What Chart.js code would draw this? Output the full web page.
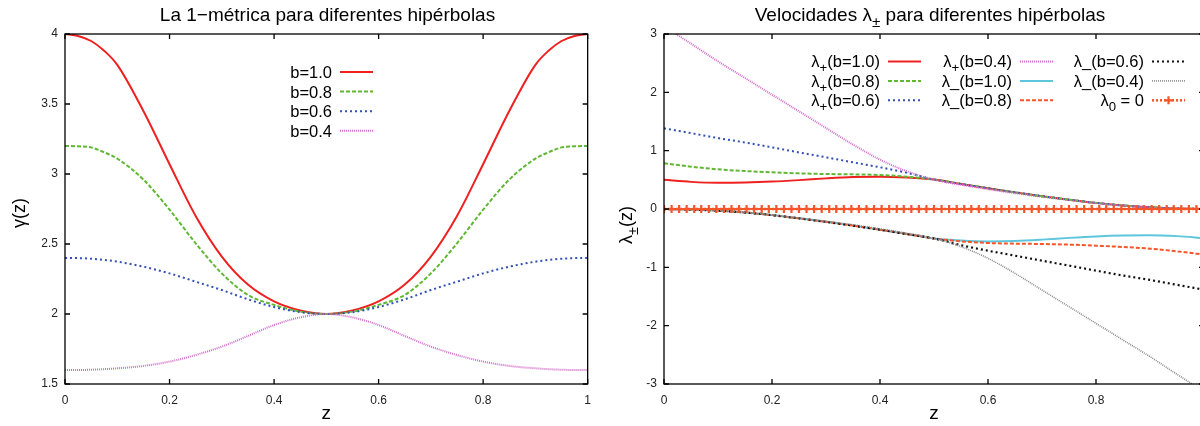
<!DOCTYPE html>
<html>
<head>
<meta charset="utf-8">
<script src="https://cdn.jsdelivr.net/npm/chart.js@4.4.1/dist/chart.umd.min.js"></script>
<style>
  html, body { margin:0; padding:0; background:#fff; overflow:hidden; width:1200px; height:426px; }
  #wrapGamma { position:absolute; left:0; top:0; width:600px; height:426px; }
  #wrapLambda { position:absolute; left:600px; top:0; width:620px; height:426px; }
</style>
</head>
<body>
<div id="wrapGamma"><canvas id="gammaChart" width="600" height="426"></canvas></div>
<div id="wrapLambda"><canvas id="lambdaChart" width="620" height="426"></canvas></div>
<script>
/* ---------------------------
   Data
   --------------------------- */
// left panel: gamma(z), a little denser at both ends where the curves are flat
const gammaZ = [0,0.025,0.05,0.075,0.1,0.15,0.2,0.25,0.3,0.35,0.4,0.45,0.5,0.55,0.6,0.65,0.7,0.75,0.8,0.85,0.9,0.925,0.95,0.975,1];
const gammaB10 = [4.0,3.986,3.95,3.88,3.78,3.45,3.07,2.70,2.41,2.21,2.09,2.025,2.0,2.025,2.09,2.21,2.41,2.70,3.07,3.45,3.78,3.88,3.95,3.986,4.0];
const gammaB08 = [3.2,3.198,3.19,3.155,3.11,2.96,2.745,2.505,2.29,2.136,2.065,2.017,2.0,2.017,2.065,2.136,2.29,2.505,2.745,2.96,3.11,3.155,3.19,3.198,3.2];
const gammaB06 = [2.4,2.399,2.395,2.386,2.374,2.338,2.29,2.231,2.171,2.105,2.05,2.013,2.0,2.013,2.05,2.105,2.171,2.231,2.29,2.338,2.374,2.386,2.395,2.399,2.4];
const gammaB04 = [1.6,1.6,1.602,1.606,1.612,1.629,1.66,1.707,1.767,1.843,1.921,1.976,2.0,1.976,1.921,1.843,1.767,1.707,1.66,1.629,1.612,1.606,1.602,1.6,1.6];

// right panel: lambda_+ and lambda_-
const zGrid = [0,0.05,0.1,0.15,0.2,0.25,0.3,0.35,0.4,0.45,0.5,0.55,0.6,0.65,0.7,0.75,0.8,0.85,0.9,0.95,1];
const lamPlusB10  = [0.50,0.465,0.45,0.455,0.47,0.495,0.525,0.548,0.555,0.54,0.505,0.43,0.355,0.285,0.22,0.16,0.105,0.06,0.028,0.008,0];
const lamPlusB08  = [0.783,0.726,0.68,0.651,0.629,0.611,0.6,0.594,0.583,0.554,0.505,0.43,0.355,0.285,0.22,0.16,0.105,0.06,0.028,0.008,0];
const lamPlusB06  = [1.383,1.30,1.216,1.14,1.057,0.97,0.886,0.80,0.715,0.62,0.505,0.43,0.355,0.285,0.22,0.16,0.105,0.06,0.028,0.008,0];
const lamPlusB04  = [3.13,2.834,2.531,2.246,1.96,1.674,1.389,1.103,0.846,0.646,0.503,0.415,0.34,0.27,0.21,0.155,0.10,0.058,0.026,0.007,0];
const lamMinusB10 = [0,-0.008,-0.028,-0.06,-0.105,-0.16,-0.22,-0.285,-0.355,-0.43,-0.505,-0.54,-0.555,-0.548,-0.525,-0.495,-0.47,-0.455,-0.45,-0.465,-0.50];
const lamMinusB08 = [0,-0.008,-0.028,-0.06,-0.105,-0.16,-0.22,-0.285,-0.355,-0.43,-0.505,-0.554,-0.583,-0.594,-0.6,-0.611,-0.629,-0.651,-0.68,-0.726,-0.783];
const lamMinusB06 = [0,-0.008,-0.028,-0.06,-0.105,-0.16,-0.22,-0.285,-0.355,-0.43,-0.505,-0.62,-0.715,-0.80,-0.886,-0.97,-1.057,-1.14,-1.216,-1.30,-1.383];
const lamMinusB04 = [0,-0.007,-0.026,-0.058,-0.10,-0.155,-0.21,-0.27,-0.34,-0.415,-0.503,-0.646,-0.846,-1.103,-1.389,-1.674,-1.96,-2.246,-2.531,-2.834,-3.13];

// lambda_0 = 0, sampled densely (one cross per sample)
const lambda0Z = [0,0.014,0.028,0.042,0.056,0.069,0.083,0.097,0.111,0.125,0.139,0.153,0.167,0.181,0.194,0.208,0.222,0.236,0.25,0.264,
  0.278,0.292,0.306,0.319,0.333,0.347,0.361,0.375,0.389,0.403,0.417,0.431,0.444,0.458,0.472,0.486,0.5,0.514,0.528,0.542,
  0.556,0.569,0.583,0.597,0.611,0.625,0.639,0.653,0.667,0.681,0.694,0.708,0.722,0.736,0.75,0.764,0.778,0.792,0.806,0.819,
  0.833,0.847,0.861,0.875,0.889,0.903,0.917,0.931,0.944,0.958,0.972,0.986,1];
const lambda0 = [0,0,0,0,0,0,0,0,0,0,0,0,0,0,0,0,0,0,0,0,
  0,0,0,0,0,0,0,0,0,0,0,0,0,0,0,0,0,0,0,0,
  0,0,0,0,0,0,0,0,0,0,0,0,0,0,0,0,0,0,0,0,
  0,0,0,0,0,0,0,0,0,0,0,0,0];

const xTicksZ = [0,0.2,0.4,0.6,0.8,1];

/* ---------------------------
   Helpers
   --------------------------- */
const FONT = "'Liberation Sans', Arial, Helvetica, sans-serif";

function pairs(xs, ys){ return xs.map((x,i)=>({x, y:ys[i]})); }

// 'λ_{+}(b=1.0)' -> [{t:'λ'},{t:'+',sub:true},{t:'(b=1.0)'}]
function parseRich(s){
  const parts = []; const re = /_\{([^}]*)\}/g; let last = 0, m;
  while ((m = re.exec(s))){
    if (m.index > last) parts.push({t:s.slice(last, m.index)});
    parts.push({t:m[1], sub:true});
    last = re.lastIndex;
  }
  if (last < s.length) parts.push({t:s.slice(last)});
  return parts;
}

function drawRich(ctx, s, x, y, size, align){
  const parts = parseRich(s);
  const subSize = size*0.8;
  let w = 0;
  parts.forEach(p=>{ ctx.font = (p.sub?subSize:size)+'px '+FONT; p.w = ctx.measureText(p.t).width; w += p.w; });
  let cx = align==='right' ? x-w : align==='center' ? x-w/2 : x;
  const base = y + size*0.36;
  ctx.textAlign = 'left'; ctx.textBaseline = 'alphabetic';
  parts.forEach(p=>{
    ctx.font = (p.sub?subSize:size)+'px '+FONT;
    ctx.fillText(p.t, cx, p.sub ? base + size*0.3 : base);
    cx += p.w;
  });
}

const fmt = v => String(Math.round(v*100)/100);

/* gnuplot-like frame, inward ticks, titles and key */
const gnuFrame = {
  id:'gnuFrame',
  afterDatasetsDraw(chart, args, o){
    const {ctx, chartArea:a, scales} = chart;
    ctx.save();
    // border
    ctx.strokeStyle = '#000'; ctx.lineWidth = 1.3; ctx.setLineDash([]);
    ctx.strokeRect(a.left, a.top, a.right-a.left, a.bottom-a.top);
    // mirrored inward ticks
    ctx.beginPath();
    scales.x.ticks.forEach(t=>{
      const px = scales.x.getPixelForValue(t.value);
      ctx.moveTo(px, a.bottom); ctx.lineTo(px, a.bottom-5);
      ctx.moveTo(px, a.top); ctx.lineTo(px, a.top+5);
    });
    scales.y.ticks.forEach(t=>{
      const py = scales.y.getPixelForValue(t.value);
      ctx.moveTo(a.left, py); ctx.lineTo(a.left+5, py);
      ctx.moveTo(a.right, py); ctx.lineTo(a.right-5, py);
    });
    ctx.stroke();

    ctx.fillStyle = '#000';
    // title
    drawRich(ctx, o.title, o.titleX, 14, 19, 'center');
    // x title
    drawRich(ctx, 'z', (a.left+a.right)/2, 412, 19, 'center');
    // y title (rotated)
    ctx.save();
    ctx.translate(o.yTitleX, (a.top+a.bottom)/2 + o.yTitleDy);
    ctx.rotate(-Math.PI/2);
    drawRich(ctx, o.yTitle, 0, 0, 18, 'center');
    ctx.restore();

    // key
    const k = o.key;
    k.cols.forEach(col=>{
      col.ids.forEach((id, r)=>{
        const ds = chart.data.datasets[id];
        const y = k.y0 + r*k.dy;
        ctx.fillStyle = '#000';
        drawRich(ctx, ds.label, col.right, y, k.size, 'right');
        const x0 = col.right + k.gap, x1 = x0 + k.len;
        ctx.strokeStyle = ds.borderColor; ctx.lineWidth = ds.borderWidth;
        ctx.setLineDash(ds.borderDash || []);
        ctx.beginPath(); ctx.moveTo(x0, y); ctx.lineTo(x1, y); ctx.stroke();
        if (ds.pointStyle === 'cross'){
          const xm = (x0+x1)/2, r2 = ds.pointRadius;
          ctx.setLineDash([]); ctx.lineWidth = ds.pointBorderWidth;
          ctx.beginPath();
          ctx.moveTo(xm-r2, y); ctx.lineTo(xm+r2, y);
          ctx.moveTo(xm, y-r2); ctx.lineTo(xm, y+r2);
          ctx.stroke();
        }
      });
    });
    ctx.restore();
  }
};

function line(label, xs, ys, color, width, dash, order){
  return { label, data:pairs(xs, ys), borderColor:color, backgroundColor:color,
           borderWidth:width, borderDash:dash, pointRadius:0, fill:false,
           cubicInterpolationMode:'monotone', borderCapStyle:'butt', order };
}

function axes(yMin, yMax, yStep, yWidth, hideLastX){
  const tickFont = {family:FONT, size:12};
  return {
    x:{ type:'linear', min:0, max:1,
        grid:{display:false, drawTicks:false}, border:{display:false},
        afterBuildTicks: s=>{ s.ticks = xTicksZ.map(v=>({value:v})); },
        ticks:{ font:tickFont, color:'#222', padding:9, autoSkip:false, maxRotation:0,
                callback: v => (hideLastX && v === 1) ? '' : fmt(v) },
        afterFit: s=>{ s.height = 42; } },
    y:{ type:'linear', min:yMin, max:yMax,
        grid:{display:false, drawTicks:false}, border:{display:false},
        ticks:{ stepSize:yStep, font:tickFont, color:'#222', padding:7, autoSkip:false, callback: fmt },
        afterFit: s=>{ s.width = yWidth; } }
  };
}

const baseOpts = { responsive:false, animation:false, events:[],
                   plugins:{ legend:{display:false}, tooltip:{enabled:false} } };

const RED='#ee2020', GREEN='#5fb832', BLUE='#3350b4', PINK='#d46ccb',
      CYAN='#5ec6dc', ORANGE='#f4562a', BLACK='#111111', GRAY='#8a8a8a';

/* ---------------------------
   Left: gamma(z)
   --------------------------- */
new Chart(document.getElementById('gammaChart'), {
  type:'line',
  data:{ datasets:[
    line('b=1.0', gammaZ, gammaB10, RED, 2, [], 4),
    line('b=0.8', gammaZ, gammaB08, GREEN, 2, [4,2], 3),
    line('b=0.6', gammaZ, gammaB06, BLUE, 2, [2,3], 2),
    line('b=0.4', gammaZ, gammaB04, PINK, 2, [1,1], 1)
  ]},
  options:Object.assign({}, baseOpts, {
    layout:{ padding:{left:0, right:10, top:34, bottom:0} },
    scales: axes(1.5, 4, 0.5, 65, false),
    plugins:Object.assign({}, baseOpts.plugins, {
      gnuFrame:{ title:'La 1\u2212métrica para diferentes hipérbolas', titleX:327.5, yTitle:'γ(z)', yTitleX:19, yTitleDy:4,
        key:{ y0:72, dy:19.6, size:16.5, gap:8, len:33, cols:[{right:332, ids:[0,1,2,3]}] } }
    })
  }),
  plugins:[gnuFrame]
});

/* ---------------------------
   Right: lambda_+-(z)
   --------------------------- */
const lam0 = line('λ_{0} = 0', lambda0Z, lambda0, ORANGE, 2.5, [2,2], 0);
Object.assign(lam0, { pointStyle:'cross', pointRadius:4, pointBorderWidth:2.2, pointBorderColor:ORANGE,
                      cubicInterpolationMode:'default', tension:0 });

new Chart(document.getElementById('lambdaChart'), {
  type:'line',
  data:{ datasets:[
    line('λ_{+}(b=1.0)', zGrid, lamPlusB10, RED, 2, [], 9),
    line('λ_{+}(b=0.8)', zGrid, lamPlusB08, GREEN, 2, [4,2], 8),
    line('λ_{+}(b=0.6)', zGrid, lamPlusB06, BLUE, 2, [2,3], 7),
    line('λ_{+}(b=0.4)', zGrid, lamPlusB04, PINK, 2, [1,1], 6),
    line('λ_(b=1.0)', zGrid, lamMinusB10, CYAN, 2, [], 5),
    line('λ_(b=0.8)', zGrid, lamMinusB08, ORANGE, 2, [4,2], 4),
    line('λ_(b=0.6)', zGrid, lamMinusB06, BLACK, 2.2, [2,3], 3),
    line('λ_(b=0.4)', zGrid, lamMinusB04, GRAY, 1.6, [1,1], 2),
    lam0
  ]},
  options:Object.assign({}, baseOpts, {
    layout:{ padding:{left:0, right:16, top:34, bottom:0} },
    scales: axes(-3, 3, 1, 64, true),
    plugins:Object.assign({}, baseOpts.plugins, {
      gnuFrame:{ title:'Velocidades λ_{±} para diferentes hipérbolas', titleX:330, yTitle:'λ_{±}(z)', yTitleX:26, yTitleDy:16,
        key:{ y0:61.5, dy:19.4, size:16.5, gap:8, len:33,
              cols:[{right:280, ids:[0,1,2]}, {right:412, ids:[3,4,5]}, {right:544, ids:[6,7,8]}] } }
    })
  }),
  plugins:[gnuFrame]
});
</script>
</body>
</html>
